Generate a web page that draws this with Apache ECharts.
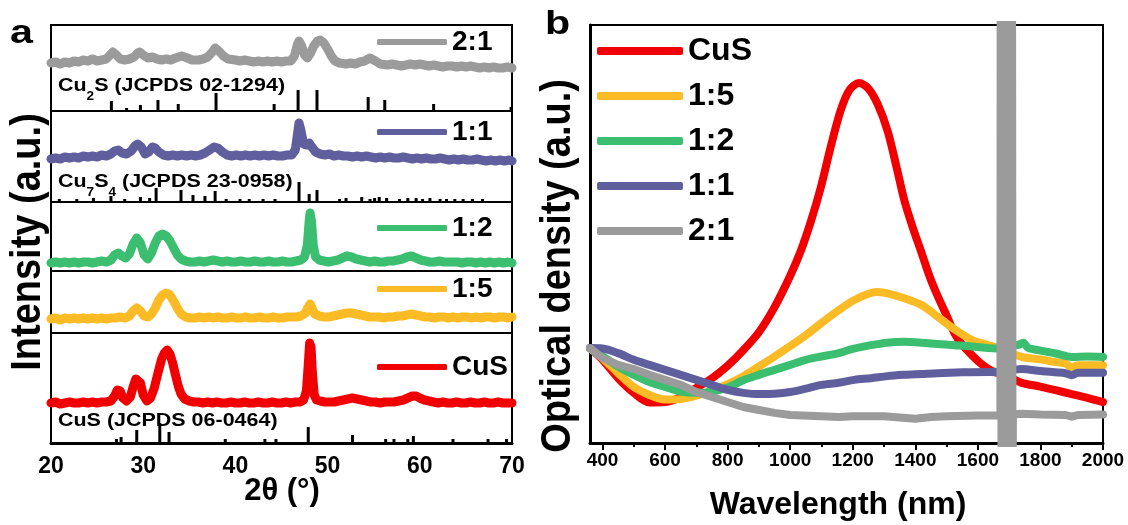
<!DOCTYPE html>
<html><head><meta charset="utf-8">
<script src="https://cdn.jsdelivr.net/npm/echarts@6/dist/echarts.min.js"></script>
<style>html,body{margin:0;padding:0;background:#fff}#c{width:1128px;height:525px}</style>
</head><body><div id="c"></div>
<script>
const FONT = "'Liberation Sans', Arial, Helvetica, sans-serif";
const seriesNames = ['CuS', '1:5', '1:2', '1:1', '2:1'];
const seriesColors = ['#f00000', '#fabb24', '#3cbe70', '#5f5f9e', '#9b9b9b'];

// ---- Panel a: XRD (2theta in degrees, intensity a.u. per sub-panel) ----
const xTicksA = [20, 30, 40, 50, 60, 70];
const xrd21 = [[20,48],[20.5,49],[21,47],[21.5,49],[22,48],[22.5,50],[23,49],[23.5,51],[24,50],[24.5,52],[25,50],[25.5,51],[26,52],[26.4,56],[26.7,59],[27.1,56],[27.5,52],[28,51],[28.5,52],[29,54],[29.3,57],[29.6,59],[30,56],[30.5,53],[31,54],[31.5,52],[32,51],[32.5,52],[33,51],[33.5,53],[34.2,55],[34.8,53],[35.3,51],[36,51],[36.5,52],[37,54],[37.5,59],[37.8,63],[38.2,60],[38.7,55],[39.2,52],[40,51],[40.5,50],[41,51],[41.5,50],[42,49],[42.5,50],[43,49],[43.5,50],[44,49],[44.5,50],[45,49],[45.5,50],[46,50],[46.4,55],[46.7,66],[46.9,70],[47.2,65],[47.5,56],[47.8,53],[48.1,57],[48.5,65],[48.9,70],[49.2,71],[49.6,68],[50,62],[50.4,55],[50.8,50],[51.3,48],[52,47],[52.5,48],[53,47],[53.5,49],[54,50],[54.6,53],[55.2,50],[55.7,47],[56.5,46],[57,47],[57.5,46],[58,45],[58.5,46],[59,47],[59.5,46],[60,47],[60.5,46],[61,45],[61.5,46],[62,45],[62.5,44],[63,45],[63.5,45],[64,44],[64.5,45],[65,44],[65.5,45],[66,44],[66.5,43],[67,44],[67.5,43],[68,44],[68.5,43],[69,43],[69.5,44],[70,43]];
const xrd11 = [[20,43],[20.5,44],[21,43],[21.5,45],[22,44],[22.5,45],[23,44],[23.5,46],[24,45],[24.5,46],[25,45],[25.5,47],[26,46],[26.5,48],[26.9,51],[27.3,52],[27.7,49],[28.2,48],[28.7,51],[29.1,56],[29.4,58],[29.8,55],[30.2,48],[30.6,50],[31,55],[31.3,54],[31.7,50],[32.2,47],[32.7,46],[33.2,47],[33.7,46],[34.2,47],[34.7,46],[35.2,47],[35.7,46],[36.2,47],[36.7,49],[37.2,52],[37.7,55],[38.1,54],[38.6,50],[39.1,47],[39.6,46],[40.1,47],[40.6,46],[41.1,47],[41.6,46],[42.1,47],[42.6,46],[43.1,47],[43.6,46],[44.1,47],[44.6,46],[45.1,46],[45.6,47],[46.1,47],[46.5,52],[46.7,66],[46.9,79],[47.1,72],[47.4,58],[47.7,57],[48,59],[48.3,55],[48.7,50],[49.2,48],[49.7,47],[50.2,48],[50.7,46],[51.2,47],[51.7,46],[52.2,46],[52.7,45],[53.2,46],[53.7,45],[54.2,46],[54.7,45],[55.2,44],[55.7,45],[56.2,44],[56.7,45],[57.2,44],[57.7,44],[58.2,45],[58.7,44],[59.2,43],[59.7,44],[60.2,43],[60.7,44],[61.2,43],[61.7,43],[62.2,44],[62.7,43],[63.2,42],[63.7,43],[64.2,42],[64.7,43],[65.2,42],[65.7,42],[66.2,43],[66.7,42],[67.2,41],[67.7,42],[68.2,41],[68.7,42],[69.2,41],[69.7,42],[70,41]];
const xrd12 = [[20,8],[20.5,9],[21,8],[21.5,9],[22,8],[22.5,9],[23,8],[23.5,9],[24,9],[24.5,8],[25,9],[25.5,10],[26,9],[26.5,11],[26.9,16],[27.3,18],[27.7,15],[28.1,13],[28.5,17],[28.9,27],[29.3,33],[29.7,28],[30.1,16],[30.5,12],[30.9,18],[31.3,28],[31.7,35],[32.1,37],[32.5,35],[32.9,30],[33.3,23],[33.7,16],[34.1,12],[34.6,10],[35.1,9],[35.6,9],[36.1,10],[36.6,9],[37.1,10],[37.6,11],[38.1,10],[38.6,9],[39.1,10],[39.6,9],[40.1,9],[40.6,10],[41.1,9],[41.6,9],[42.1,10],[42.6,9],[43.1,9],[43.6,10],[44.1,9],[44.6,9],[45.1,10],[45.6,9],[46.1,9],[46.6,10],[47.1,11],[47.5,14],[47.8,26],[48.0,50],[48.1,58],[48.25,50],[48.45,25],[48.7,14],[49.1,11],[49.6,10],[50.1,9],[50.6,10],[51.1,11],[51.6,13],[52.1,15],[52.6,14],[53.1,12],[53.6,11],[54.1,10],[54.6,9],[55.1,10],[55.6,9],[56.1,9],[56.6,10],[57.1,10],[57.6,11],[58.1,12],[58.6,14],[59.1,15],[59.6,13],[60.1,11],[60.6,10],[61.1,9],[61.6,9],[62.1,10],[62.6,9],[63.1,9],[63.6,9],[64.1,9],[64.6,8],[65.1,9],[65.6,9],[66.1,8],[66.6,9],[67.1,8],[67.6,9],[68.1,8],[68.6,9],[69.1,8],[69.6,9],[70,8]];
const xrd15 = [[20,14],[20.5,15],[21,13],[21.5,15],[22,14],[22.5,15],[23,14],[23.5,15],[24,14],[24.5,15],[25,14],[25.5,15],[26,14],[26.5,15],[27,15],[27.5,16],[28,15],[28.5,17],[28.9,22],[29.3,25],[29.7,22],[30.1,17],[30.5,16],[30.9,19],[31.3,25],[31.7,33],[32.1,38],[32.5,40],[32.9,38],[33.3,32],[33.7,25],[34.1,19],[34.6,16],[35.1,15],[35.6,15],[36.1,16],[36.6,15],[37.1,16],[37.6,15],[38.1,16],[38.6,15],[39.1,15],[39.6,16],[40.1,15],[40.6,15],[41.1,16],[41.6,15],[42.1,15],[42.6,16],[43.1,15],[43.6,15],[44.1,16],[44.6,15],[45.1,15],[45.6,16],[46.1,16],[46.6,16],[47.1,17],[47.6,20],[47.9,26],[48.1,29],[48.3,25],[48.6,19],[49.1,17],[49.6,16],[50.1,16],[50.6,17],[51.1,18],[51.6,19],[52.1,20],[52.6,20],[53.1,19],[53.6,18],[54.1,17],[54.6,16],[55.1,16],[55.6,16],[56.1,15],[56.6,16],[57.1,16],[57.6,17],[58.1,17],[58.6,18],[59.1,19],[59.6,18],[60.1,17],[60.6,16],[61.1,16],[61.6,15],[62.1,16],[62.6,16],[63.1,15],[63.6,16],[64.1,15],[64.6,16],[65.1,16],[65.6,15],[66.1,16],[66.6,15],[67.1,16],[67.6,16],[68.1,15],[68.6,16],[69.1,16],[69.6,15],[70,16]];
const xrdCuS = [[20,40],[20.5,41],[21,39],[21.5,40],[22,41],[22.5,40],[23,40],[23.5,41],[24,40],[24.5,41],[25,40],[25.5,41],[26,41],[26.5,42],[26.9,47],[27.2,53],[27.5,52],[27.8,45],[28.2,42],[28.6,46],[28.9,56],[29.2,64],[29.4,66],[29.7,60],[30.0,48],[30.4,42],[30.8,45],[31.2,55],[31.6,70],[32.0,84],[32.3,90],[32.6,93],[32.9,89],[33.2,80],[33.5,68],[33.8,57],[34.1,49],[34.5,44],[35,42],[35.5,41],[36,41],[36.5,40],[37,41],[37.5,40],[38,41],[38.5,40],[39,40],[39.5,41],[40,40],[40.5,40],[41,41],[41.5,40],[42,40],[42.5,41],[43,40],[43.5,40],[44,41],[44.5,40],[45,40],[45.5,41],[46,40],[46.5,41],[47,41],[47.4,43],[47.7,52],[47.9,78],[48.05,100],[48.2,96],[48.35,70],[48.55,48],[48.8,43],[49.2,42],[49.7,41],[50.2,41],[50.7,41],[51.2,42],[51.7,43],[52.2,44],[52.7,45],[53.2,44],[53.7,43],[54.2,42],[54.7,41],[55.2,41],[55.7,40],[56.2,41],[56.7,41],[57.2,41],[57.7,42],[58.2,43],[58.7,45],[59.2,47],[59.6,47],[60,45],[60.5,43],[61,42],[61.5,41],[62,40],[62.5,41],[63,40],[63.5,40],[64,41],[64.5,40],[65,40],[65.5,41],[66,40],[66.5,40],[67,41],[67.5,40],[68,40],[68.5,41],[69,40],[69.5,40],[70,40]];

// reference patterns: [2theta, relative stick height]
const refCu2S = [[26.55,10],[28.2,3],[29.7,6],[31.6,11],[33.8,7],[37.9,18],[44.2,7],[46.8,21],[48.85,21],[54.4,14],[56.2,11],[61.5,7],[69.9,4]];
const refCu7S4 = [[20.9,3],[22.8,3],[24.6,4],[26.5,6],[28,3],[29.7,5],[30.7,4],[31.4,14],[34.1,12],[35.4,7],[36.7,6],[37.8,11],[39,3],[40.5,3],[41.5,3],[43,3],[44.3,3],[46.9,20],[48.0,8],[48.85,12],[51.3,3],[52,4],[53.7,5],[54.6,3],[55.1,4],[55.6,5],[56.4,4],[57.8,3],[58.7,4],[59.6,4],[60.3,3],[61.1,4],[62.2,3],[62.9,3],[63.8,3],[64.7,3],[65.7,3],[66.8,3]];
const refCuS = [[27.1,4],[27.6,6],[29.3,13],[31.8,20],[32.8,11],[38.9,4],[43.2,4],[44.4,4],[47.9,16],[52.7,8],[56.3,4],[57.2,4],[58.7,4],[59.3,7],[63.6,4],[67.4,4],[69.4,4]];

// ---- Panel b: optical density (wavelength nm, OD a.u.) ----
const wlTicks = [400, 600, 800, 1000, 1200, 1400, 1600, 1800, 2000];
const wlMinorTicks = [500, 700, 900, 1100, 1300, 1500, 1700, 1900];
const odCuS = [[360,0.227],[400,0.199],[450,0.155],[500,0.12],[550,0.097],[600,0.098],[650,0.11],[700,0.132],[750,0.155],[800,0.185],[850,0.222],[900,0.265],[950,0.325],[1000,0.40],[1034,0.46],[1066,0.53],[1098,0.612],[1130,0.71],[1162,0.797],[1190,0.845],[1220,0.861],[1250,0.848],[1280,0.81],[1312,0.745],[1340,0.66],[1365,0.58],[1392,0.515],[1419,0.457],[1445,0.40],[1470,0.354],[1500,0.305],[1525,0.263],[1550,0.235],[1580,0.211],[1610,0.19],[1640,0.174],[1660,0.168],[1700,0.158],[1740,0.144],[1800,0.135],[1845,0.127],[1900,0.117],[1950,0.108],[2000,0.098]];
const od15 = [[360,0.227],[400,0.203],[450,0.167],[500,0.134],[550,0.115],[600,0.104],[650,0.105],[700,0.113],[750,0.126],[800,0.141],[850,0.16],[900,0.183],[950,0.207],[1000,0.232],[1050,0.258],[1100,0.287],[1150,0.315],[1200,0.34],[1250,0.357],[1280,0.361],[1320,0.356],[1370,0.345],[1420,0.33],[1470,0.303],[1525,0.272],[1580,0.247],[1634,0.234],[1660,0.228],[1740,0.206],[1800,0.2],[1845,0.194],[1880,0.19],[1900,0.181],[1920,0.186],[1960,0.186],[2000,0.186]];
const od12 = [[360,0.227],[400,0.208],[450,0.183],[500,0.163],[550,0.146],[600,0.134],[650,0.123],[700,0.12],[750,0.123],[800,0.133],[850,0.15],[900,0.163],[950,0.175],[1000,0.187],[1050,0.199],[1100,0.207],[1155,0.215],[1200,0.225],[1258,0.234],[1310,0.24],[1365,0.242],[1420,0.24],[1470,0.237],[1525,0.234],[1580,0.231],[1634,0.227],[1660,0.226],[1730,0.235],[1745,0.24],[1760,0.228],[1792,0.222],[1850,0.214],[1900,0.206],[1950,0.207],[2000,0.206]];
const od11 = [[360,0.227],[400,0.226],[450,0.215],[500,0.199],[550,0.187],[600,0.175],[650,0.163],[700,0.151],[750,0.139],[800,0.127],[850,0.12],[900,0.117],[950,0.118],[1000,0.122],[1050,0.13],[1100,0.139],[1155,0.144],[1205,0.151],[1258,0.155],[1310,0.16],[1365,0.163],[1420,0.165],[1470,0.167],[1550,0.169],[1634,0.17],[1660,0.17],[1740,0.177],[1800,0.172],[1845,0.169],[1880,0.167],[1900,0.162],[1920,0.168],[1960,0.168],[2000,0.168]];
const od21 = [[360,0.227],[400,0.203],[450,0.187],[500,0.177],[550,0.163],[600,0.151],[650,0.139],[700,0.122],[750,0.11],[800,0.098],[850,0.086],[900,0.079],[950,0.072],[1000,0.067],[1100,0.064],[1155,0.062],[1200,0.064],[1300,0.064],[1350,0.061],[1400,0.058],[1450,0.062],[1500,0.064],[1600,0.066],[1660,0.066],[1672,0.066],[1673,1.3],[1676,-0.3],[1679,1.3],[1682,-0.3],[1685,1.3],[1688,-0.3],[1691,1.3],[1694,-0.3],[1697,1.3],[1700,-0.3],[1703,1.3],[1706,-0.3],[1709,1.3],[1711,-0.3],[1712,0.068],[1740,0.07],[1800,0.068],[1880,0.067],[1900,0.063],[1920,0.067],[2000,0.068]];

// ---------------- build ----------------
const panelsA = [
  {top: 25, height: 86, data: xrd21, name: '2:1', color: seriesColors[4], ref: refCu2S},
  {top: 111, height: 91, data: xrd11, name: '1:1', color: seriesColors[3], ref: refCu7S4},
  {top: 202, height: 69, data: xrd12, name: '1:2', color: seriesColors[2], ref: null},
  {top: 271, height: 62, data: xrd15, name: '1:5', color: seriesColors[1], ref: null},
  {top: 333, height: 110, data: xrdCuS, name: 'CuS', color: seriesColors[0], ref: refCuS}
];
const legendCentersA = [42, 132, 228, 289, 367];

const grid = [], xAxis = [], yAxis = [], series = [], legend = [];
function stickRender(params, api) {
  const x = api.value(0), h = api.value(1);
  const a = api.coord([x, 0]), b = api.coord([x, h]);
  return {type: 'line', shape: {x1: a[0], y1: a[1], x2: b[0], y2: b[1]}, style: {stroke: '#000', lineWidth: 3}};
}
panelsA.forEach((p, i) => {
  grid.push({left: 51, width: 461, top: p.top, height: p.height, show: true, borderColor: '#000', borderWidth: 2, containLabel: false});
  const isBottom = i === panelsA.length - 1;
  xAxis.push({
    type: 'value', gridIndex: i, min: xTicksA[0], max: xTicksA[xTicksA.length - 1], interval: 10,
    axisLine: {show: isBottom, onZero: false, lineStyle: {color: '#000', width: 3}},
    axisTick: {show: false}, splitLine: {show: false},
    axisLabel: {show: isBottom, margin: 12, fontSize: 23, fontWeight: 'bold', color: '#000', fontFamily: FONT, formatter: v => String(v)}
  });
  yAxis.push({type: 'value', gridIndex: i, min: 0, max: p.height, show: false, splitLine: {show: false}});
  series.push({
    type: 'line', name: p.name, xAxisIndex: i, yAxisIndex: i, data: p.data,
    showSymbol: false, symbol: 'none', smooth: false, animation: false, color: p.color,
    lineStyle: {width: 9, color: p.color, join: 'round', cap: 'round'}
  });
  if (p.ref) {
    series.push({
      type: 'custom', name: 'ref' + i, xAxisIndex: i, yAxisIndex: i, data: p.ref,
      renderItem: stickRender, encode: {x: 0, y: 1}, animation: false, clip: false, z: 3
    });
  }
  legend.push({
    data: [{name: p.name, icon: 'roundRect'}], left: 377, top: legendCentersA[i] - 14, padding: 0,
    itemWidth: 70, itemHeight: 6, selectedMode: false,
    textStyle: {fontSize: 28, lineHeight: 28, fontWeight: 'bold', color: '#000', fontFamily: FONT}
  });
});

// Panel b
const gb = panelsA.length;
grid.push({left: 590, width: 513, top: 25, height: 418, show: true, borderColor: '#000', borderWidth: 2, containLabel: false});
xAxis.push({
  type: 'value', gridIndex: gb, min: 360, max: 2000,
  axisLine: {show: true, onZero: false, lineStyle: {color: '#000', width: 3}},
  axisTick: {show: true, customValues: wlTicks, length: 7, lineStyle: {color: '#000', width: 2}},
  axisLabel: {show: true, customValues: wlTicks, margin: 8, fontSize: 19, fontWeight: 'bold', color: '#000', fontFamily: FONT, formatter: v => String(v)},
  splitLine: {show: false}
});
xAxis.push({
  type: 'value', gridIndex: gb, min: 360, max: 2000, position: 'bottom',
  axisLine: {show: false}, axisLabel: {show: false}, splitLine: {show: false},
  axisTick: {show: true, customValues: wlMinorTicks, length: 4, lineStyle: {color: '#000', width: 2}}
});
yAxis.push({
  type: 'value', gridIndex: gb, min: 0, max: 1,
  axisLine: {show: true, onZero: false, lineStyle: {color: '#000', width: 3}},
  axisTick: {show: false}, axisLabel: {show: false}, splitLine: {show: false}
});
const odData = [odCuS, od15, od12, od11, od21];
odData.forEach((d, k) => {
  series.push({
    type: 'line', name: seriesNames[k], xAxisIndex: gb, yAxisIndex: gb, data: d,
    showSymbol: false, symbol: 'none', smooth: k === 4 ? false : 0.3, animation: false, clip: true,
    color: seriesColors[k], lineStyle: {width: 8, color: seriesColors[k], join: 'round', cap: 'round'}
  });
});
legend.push({
  data: seriesNames.map(n => ({name: n, icon: 'roundRect'})), orient: 'vertical', left: 597, top: 35, padding: 0,
  itemWidth: 86, itemHeight: 8, itemGap: 13, selectedMode: false,
  textStyle: {fontSize: 32, lineHeight: 32, fontWeight: 'bold', color: '#000', fontFamily: FONT}
});

function txt(text, x, y, size, extra) {
  return Object.assign({type: 'text', x: x, y: y, silent: true,
    style: {text: text, fontSize: size, fontWeight: 'bold', fontFamily: FONT, fill: '#000', align: 'center', verticalAlign: 'middle'}}, extra || {});
}
const subRich = {
  n: {fontSize: 19, fontWeight: 'bold', fontFamily: FONT, fill: '#000', lineHeight: 34},
  s: {fontSize: 12, fontWeight: 'bold', fontFamily: FONT, fill: '#000', lineHeight: 12, verticalAlign: 'bottom'}
};
function richTxt(text, x, y) {
  return {type: 'text', x: x, y: y, scaleX: 1.13, silent: true, z: 10,
    style: {text: text, rich: subRich, align: 'left', verticalAlign: 'middle', fontSize: 19, fontWeight: 'bold', fontFamily: FONT, fill: '#000'}};
}
const graphic = [
  Object.assign(txt('a', 10, 34, 33), {scaleX: 1.25, style: {text: 'a', fontSize: 33, fontWeight: 'bold', fontFamily: FONT, fill: '#000', align: 'left', verticalAlign: 'middle'}}),
  Object.assign(txt('b', 545, 25, 33), {scaleX: 1.25, style: {text: 'b', fontSize: 33, fontWeight: 'bold', fontFamily: FONT, fill: '#000', align: 'left', verticalAlign: 'middle'}}),
  txt('Intensity (a.u.)', 28, 242, 38, {rotation: Math.PI / 2, scaleY: 1.1}),
  txt('Optical density (a.u.)', 558, 266, 38, {rotation: Math.PI / 2, scaleY: 1.1}),
  txt('2θ (°)', 282, 491, 31),
  txt('Wavelength (nm)', 838, 505, 32),
  richTxt('{n|Cu}{s|2}{n|S (JCPDS 02-1294)}', 58, 86),
  richTxt('{n|Cu}{s|7}{n|S}{s|4}{n| (JCPDS 23-0958)}', 58, 182),
  richTxt('{n|CuS (JCPDS 06-0464)}', 58, 421)
];

const chart = echarts.init(document.getElementById('c'), null, {renderer: 'canvas'});
chart.setOption({
  backgroundColor: '#fff', animation: false,
  grid: grid, xAxis: xAxis, yAxis: yAxis, series: series, legend: legend, graphic: graphic
});
</script></body></html>
